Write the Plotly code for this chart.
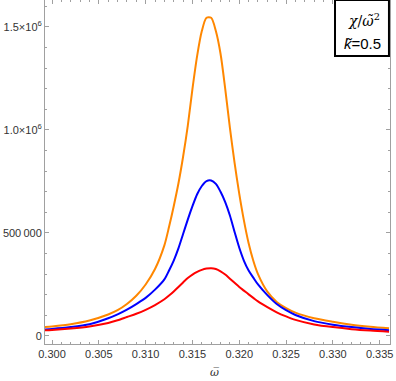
import plotly.graph_objects as go

# omega-bar grid
omega = [0.299, 0.300, 0.302, 0.304, 0.306, 0.307, 0.308, 0.309, 0.310, 0.311,
         0.312, 0.3125, 0.313, 0.3135, 0.314, 0.3145, 0.315, 0.3155, 0.316, 0.3165,
         0.317, 0.3175, 0.318, 0.3185, 0.319, 0.3195, 0.320, 0.3205, 0.321, 0.3215,
         0.322, 0.323, 0.324, 0.325, 0.326, 0.328, 0.330, 0.332, 0.334, 0.336]

chi_orange = [42e3, 46e3, 57e3, 75e3, 104e3, 125e3, 155e3, 195e3, 250e3, 325e3,
              440e3, 530e3, 630e3, 740e3, 870e3, 1.02e6, 1.20e6, 1.36e6, 1.48e6, 1.545e6,
              1.545e6, 1.48e6, 1.37e6, 1.20e6, 1.01e6, 840e3, 690e3, 560e3, 450e3, 365e3,
              300e3, 215e3, 165e3, 135e3, 113e3, 86e3, 69e3, 55e3, 45e3, 37e3]

chi_blue = [31e3, 34e3, 43e3, 57e3, 86e3, 105e3, 128e3, 155e3, 185e3, 225e3,
            275e3, 318e3, 366e3, 425e3, 495e3, 565e3, 630e3, 688e3, 728e3, 752e3,
            755e3, 738e3, 700e3, 650e3, 585e3, 505e3, 428e3, 365e3, 318e3, 283e3,
            250e3, 198e3, 155e3, 125e3, 102e3, 72e3, 55e3, 43e3, 34e3, 28e3]

chi_red = [27e3, 29e3, 36e3, 46e3, 63e3, 76e3, 92e3, 108e3, 127e3, 150e3,
           178e3, 196e3, 216e3, 238e3, 260e3, 281e3, 298e3, 311e3, 321e3, 327e3,
           329e3, 325e3, 314e3, 298e3, 278e3, 258e3, 238e3, 220e3, 202e3, 185e3,
           168e3, 140e3, 115e3, 95e3, 78e3, 56e3, 43e3, 33e3, 26e3, 21e3]

x_ticks = [0.300, 0.305, 0.310, 0.315, 0.320, 0.325, 0.330, 0.335]
x_labels = ["0.300", "0.305", "0.310", "0.315", "0.320", "0.325", "0.330", "0.335"]
y_ticks = [0, 500000, 1000000, 1500000]
y_labels = ["0", "500\u2009000", "1.0\u00d710<sup>6</sup>", "1.5\u00d710<sup>6</sup>"]

fig = go.Figure()

for ys, col in [(chi_orange, "rgb(255,135,0)"), (chi_blue, "rgb(0,0,255)"), (chi_red, "rgb(255,0,0)")]:
    fig.add_trace(go.Scatter(x=omega, y=ys, mode="lines",
                             line=dict(color=col, width=2, shape="spline", smoothing=0.8),
                             showlegend=False, hoverinfo="skip"))

axis_style = dict(
    showline=True, linecolor="#a0a0a0", linewidth=1, mirror="ticks",
    ticks="inside", ticklen=4, tickcolor="#a0a0a0", tickwidth=1,
    showgrid=False, zeroline=False, automargin=False,
    tickfont=dict(family="Liberation Sans, Arial", size=11, color="#333333"),
)

fig.update_xaxes(**axis_style, range=[0.29925, 0.3361],
                 tickvals=x_ticks, ticktext=x_labels,
                 minor=dict(dtick=0.001, tick0=0.3, ticks="inside", ticklen=2, tickcolor="#a0a0a0"))
fig.update_yaxes(**axis_style, range=[-39000, 1631000],
                 tickvals=y_ticks, ticktext=y_labels,
                 minor=dict(dtick=100000, tick0=0, ticks="inside", ticklen=2, tickcolor="#a0a0a0"))

# x axis title: omega-bar
fig.add_annotation(x=0.49, y=-0.084, xref="paper", yref="paper",
                   xanchor="center", yanchor="middle",
                   text="<i>\u03c9\u0305</i>", showarrow=False,
                   font=dict(family="DejaVu Serif", size=11, color="#333333"))

# label box, top right
fig.add_shape(type="rect", xref="paper", yref="paper", x0=0.8406, x1=0.997, y0=0.837, y1=1.0,
              line=dict(color="black", width=2), fillcolor="white", layer="above")
fig.add_annotation(x=0.925, y=0.942, xref="paper", yref="paper",
                   xanchor="center", yanchor="middle",
                   text="<i>\u03c7</i>/<i>\u03c9\u0303</i><sup>2</sup>",
                   showarrow=False, font=dict(family="DejaVu Serif", size=14, color="black"))
fig.add_annotation(x=0.92, y=0.875, xref="paper", yref="paper",
                   xanchor="center", yanchor="middle",
                   text="<i>k\u0303</i>=0.5",
                   showarrow=False, font=dict(family="Liberation Sans, Arial", size=15, color="black"))

fig.update_layout(width=396, height=381, margin=dict(l=45, r=6, t=0, b=37),
                  plot_bgcolor="white", paper_bgcolor="white")

fig.write_html("out.html", config={"displayModeBar": False},
               post_script="document.body.style.margin='0';")
